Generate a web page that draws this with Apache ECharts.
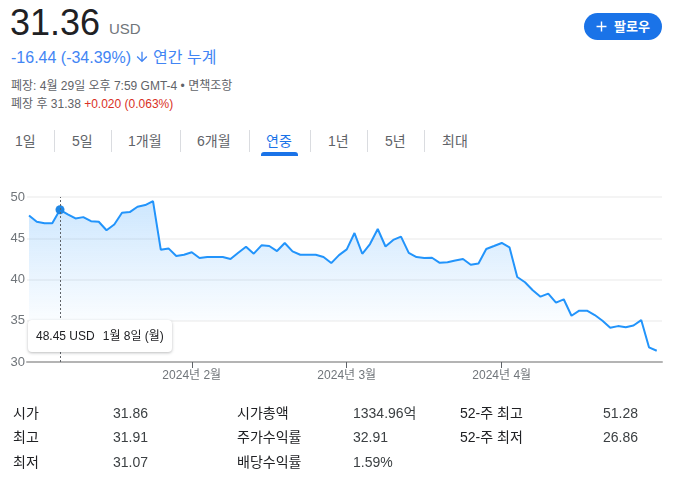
<!DOCTYPE html>
<html>
<head>
<meta charset="utf-8">
<script src="https://cdn.jsdelivr.net/npm/echarts@6/dist/echarts.min.js"></script>
<style>
  html, body { margin: 0; padding: 0; background: #fff; }
  body {
    width: 684px; height: 481px; position: relative; overflow: hidden;
    font-family: Arial, "Liberation Sans", "Noto Sans CJK KR", sans-serif;
  }
  .abs { position: absolute; white-space: nowrap; }
  #main { position: absolute; left: 0; top: 0; width: 684px; height: 481px; }
  .tab { position: absolute; top: 131px; font-size: 14px; line-height: 20px; color: #5f6368; }
  .sep { position: absolute; top: 130px; width: 1px; height: 22px; background: #dadce0; }
  .cell { position: absolute; font-size: 14px; line-height: 18px; }
  .lbl { color: #202124; }
  .val { color: #3c4043; }
</style>
</head>
<body>
<!-- 헤더 -->
<div class="abs" style="left:10px; top:5px; font-size:36px; line-height:36px; color:#202124;">31.36</div>
<div class="abs" style="left:109px; top:19px; font-size:15px; line-height:20px; color:#70757a;">USD</div>
<div class="abs" style="left:11px; top:48px; font-size:16px; line-height:20px; color:#4285f4;">
  -16.44 (-34.39%)<svg width="16" height="16" viewBox="0 0 24 24" style="vertical-align:-2px; margin:0 3px 0 3px;"><path fill="#4285f4" d="M20 12l-1.41-1.41L13 16.17V4h-2v12.17l-5.58-5.59L4 12l8 8 8-8z"/></svg>연간 누계
</div>
<div class="abs" style="left:11px; top:78px; font-size:12px; line-height:16px; color:#5f6368;">폐장: 4월 29일 오후 7:59 GMT-4 • 면책조항</div>
<div class="abs" style="left:11px; top:96px; font-size:12px; line-height:16px; color:#5f6368;">폐장 후 31.38 <span style="color:#d93025;">+0.020 (0.063%)</span></div>
<div class="abs" style="left:584px; top:13px; width:78px; height:27px; border-radius:14px; background:#1a73e8; color:#fff; font-size:13px; line-height:27px; font-weight:bold;">
  <svg width="17" height="17" viewBox="0 0 24 24" style="position:absolute; left:9px; top:5px;"><path fill="#fff" d="M19 13h-6v6h-2v-6H5v-2h6V5h2v6h6v2z"/></svg>
  <span style="position:absolute; left:30px;">팔로우</span>
</div>

<!-- 기간 탭 -->
<div class="tab" style="left:15px;">1일</div>
<div class="sep" style="left:54px;"></div>
<div class="tab" style="left:72px;">5일</div>
<div class="sep" style="left:111px;"></div>
<div class="tab" style="left:128px;">1개월</div>
<div class="sep" style="left:180px;"></div>
<div class="tab" style="left:197px;">6개월</div>
<div class="sep" style="left:249px;"></div>
<div class="tab" style="left:266px; color:#1a73e8;">연중</div>
<div class="abs" style="left:261px; top:152px; width:37px; height:4px; border-radius:3px 3px 0 0; background:#1a73e8;"></div>
<div class="sep" style="left:310px;"></div>
<div class="tab" style="left:328px;">1년</div>
<div class="sep" style="left:367px;"></div>
<div class="tab" style="left:385px;">5년</div>
<div class="sep" style="left:424px;"></div>
<div class="tab" style="left:442px;">최대</div>

<div id="main"></div>

<!-- 하단 통계 -->
<div class="cell lbl" style="left:13px; top:404px;">시가</div>
<div class="cell val" style="left:113px; top:404px;">31.86</div>
<div class="cell lbl" style="left:237px; top:404px;">시가총액</div>
<div class="cell val" style="left:353px; top:404px;">1334.96억</div>
<div class="cell lbl" style="left:460px; top:404px;">52-주 최고</div>
<div class="cell val" style="left:603px; top:404px;">51.28</div>

<div class="cell lbl" style="left:13px; top:428px;">최고</div>
<div class="cell val" style="left:113px; top:428px;">31.91</div>
<div class="cell lbl" style="left:237px; top:428px;">주가수익률</div>
<div class="cell val" style="left:353px; top:428px;">32.91</div>
<div class="cell lbl" style="left:460px; top:428px;">52-주 최저</div>
<div class="cell val" style="left:603px; top:428px;">26.86</div>

<div class="cell lbl" style="left:13px; top:453px;">최저</div>
<div class="cell val" style="left:113px; top:453px;">31.07</div>
<div class="cell lbl" style="left:237px; top:453px;">배당수익률</div>
<div class="cell val" style="left:353px; top:453px;">1.59%</div>

<script>
// 2024년 거래일 (월별)
const janDays = [2, 3, 4, 5, 8, 9, 10, 11, 12, 16, 17, 18, 19, 22, 23, 24, 25, 26, 29, 30, 31];
const febDays = [1, 2, 5, 6, 7, 8, 9, 12, 13, 14, 15, 16, 20, 21, 22, 23, 26, 27, 28, 29];
const marDays = [1, 4, 5, 6, 7, 8, 11, 12, 13, 14, 15, 18, 19, 20, 21, 22, 25, 26, 27, 28];
const aprDays = [1, 2, 3, 4, 5, 8, 9, 10, 11, 12, 15, 16, 17, 18, 19, 22, 23, 24, 25, 26, 29];

// 종가 (USD)
const prices = [
  47.76, 47.0, 46.83, 46.83, 48.45, 47.9, 47.4, 47.56, 47.07, 47.0,
  45.97, 46.66, 48.09, 48.17, 48.82, 49.02, 49.51, 43.61, 43.77, 42.84,
  43.0, 43.3, 42.6, 42.72, 42.72, 42.72, 42.48, 43.25, 43.98, 43.13,
  44.14, 44.06, 43.45, 44.43, 43.41, 43.0, 43.0, 43.0, 42.72, 41.99,
  42.96, 43.65, 45.63, 43.12, 44.3, 46.12, 44.0, 44.8, 45.2, 43.23,
  42.72, 42.62, 42.64, 42.02, 42.1, 42.3, 42.48, 41.78, 41.95, 43.7,
  44.06, 44.43, 43.9, 40.3, 39.67, 38.7, 37.92, 38.29, 37.19, 37.6,
  35.61, 36.22, 36.22, 35.69, 35.0, 34.14, 34.35, 34.22, 34.43, 35.08,
  31.78, 31.36
];

const yMin = 30;
const yMax = 50;
const yStep = 5;
const tipIndex = 4; // 1월 8일

const lineColor = "#1f87e5";
const fontFamily = 'Arial, "Liberation Sans", "Noto Sans CJK KR", sans-serif';
const weekNames = ["일", "월", "화", "수", "목", "금", "토"];

// 날짜 목록 만들기
let dates = [];
let monthStarts = [];
[janDays, febDays, marDays, aprDays].forEach((days, m) => {
  if (m > 0) monthStarts.push(dates.length);
  days.forEach((d) => {
    dates.push({ month: m + 1, day: d, week: new Date(2024, m, d).getDay() });
  });
});

const seriesData = prices.map((v, i) => [i, v]);

let myChart = echarts.init(document.getElementById("main"));

let option = {
  animation: false,
  textStyle: { fontFamily: fontFamily },
  grid: { left: 27, right: 22, top: 197, bottom: 119 },
  tooltip: {
    trigger: "axis",
    alwaysShowContent: true,
    position: [28, 320],
    backgroundColor: "#fff",
    borderWidth: 0,
    padding: [7, 8],
    textStyle: { color: "#202124", fontSize: 12, fontFamily: fontFamily },
    extraCssText: "box-shadow: 0 1px 3px rgba(60,64,67,0.35); border-radius: 4px;",
    axisPointer: {
      type: "line",
      snap: true,
      lineStyle: { color: "#5f6368", width: 1, type: [2, 2] },
      label: { show: false },
    },
    formatter: function (params) {
      const p = params[0];
      const d = dates[p.dataIndex];
      return (
        p.value[1].toFixed(2) + " USD" +
        '<span style="margin-left:8px">' + d.month + "월 " + d.day + "일 (" + weekNames[d.week] + ")</span>"
      );
    },
  },
  xAxis: {
    type: "value",
    min: -0.26,
    max: 81.68,
    splitLine: { show: false },
    axisLine: { show: true, onZero: false, lineStyle: { color: "#b4b4b4", width: 2 } },
    axisTick: { show: true, customValues: monthStarts, length: 6, lineStyle: { color: "#5f6368", width: 1 } },
    axisLabel: {
      customValues: monthStarts,
      color: "#70757a",
      fontSize: 12,
      margin: 8,
      formatter: function (v) {
        return "2024년 " + dates[v].month + "월";
      },
    },
  },
  yAxis: {
    type: "value",
    min: yMin,
    max: yMax,
    interval: yStep,
    axisLine: { show: false },
    axisTick: { show: false },
    axisLabel: { color: "#70757a", fontSize: 13, margin: 2 },
    splitLine: { lineStyle: { color: "#f1f1f1", width: 1.5 } },
  },
  series: [
    {
      type: "line",
      data: seriesData,
      showSymbol: false,
      symbol: "circle",
      symbolSize: 9,
      lineStyle: { color: lineColor, width: 2 },
      itemStyle: { color: lineColor },
      emphasis: { scale: false, itemStyle: { color: lineColor, borderWidth: 0 }, lineStyle: { width: 2 } },
      areaStyle: {
        origin: "start",
        color: new echarts.graphic.LinearGradient(0, 0, 0, 1, [
          { offset: 0, color: "rgba(31,135,229,0.32)" },
          { offset: 0.74, color: "rgba(31,135,229,0.03)" },
          { offset: 0.745, color: "rgba(31,135,229,0)" },
          { offset: 1, color: "rgba(31,135,229,0)" },
        ]),
      },
    },
  ],
};

option && myChart.setOption(option);

// 1월 8일 툴팁 표시
myChart.dispatchAction({ type: "showTip", seriesIndex: 0, dataIndex: tipIndex });
</script>
</body>
</html>
